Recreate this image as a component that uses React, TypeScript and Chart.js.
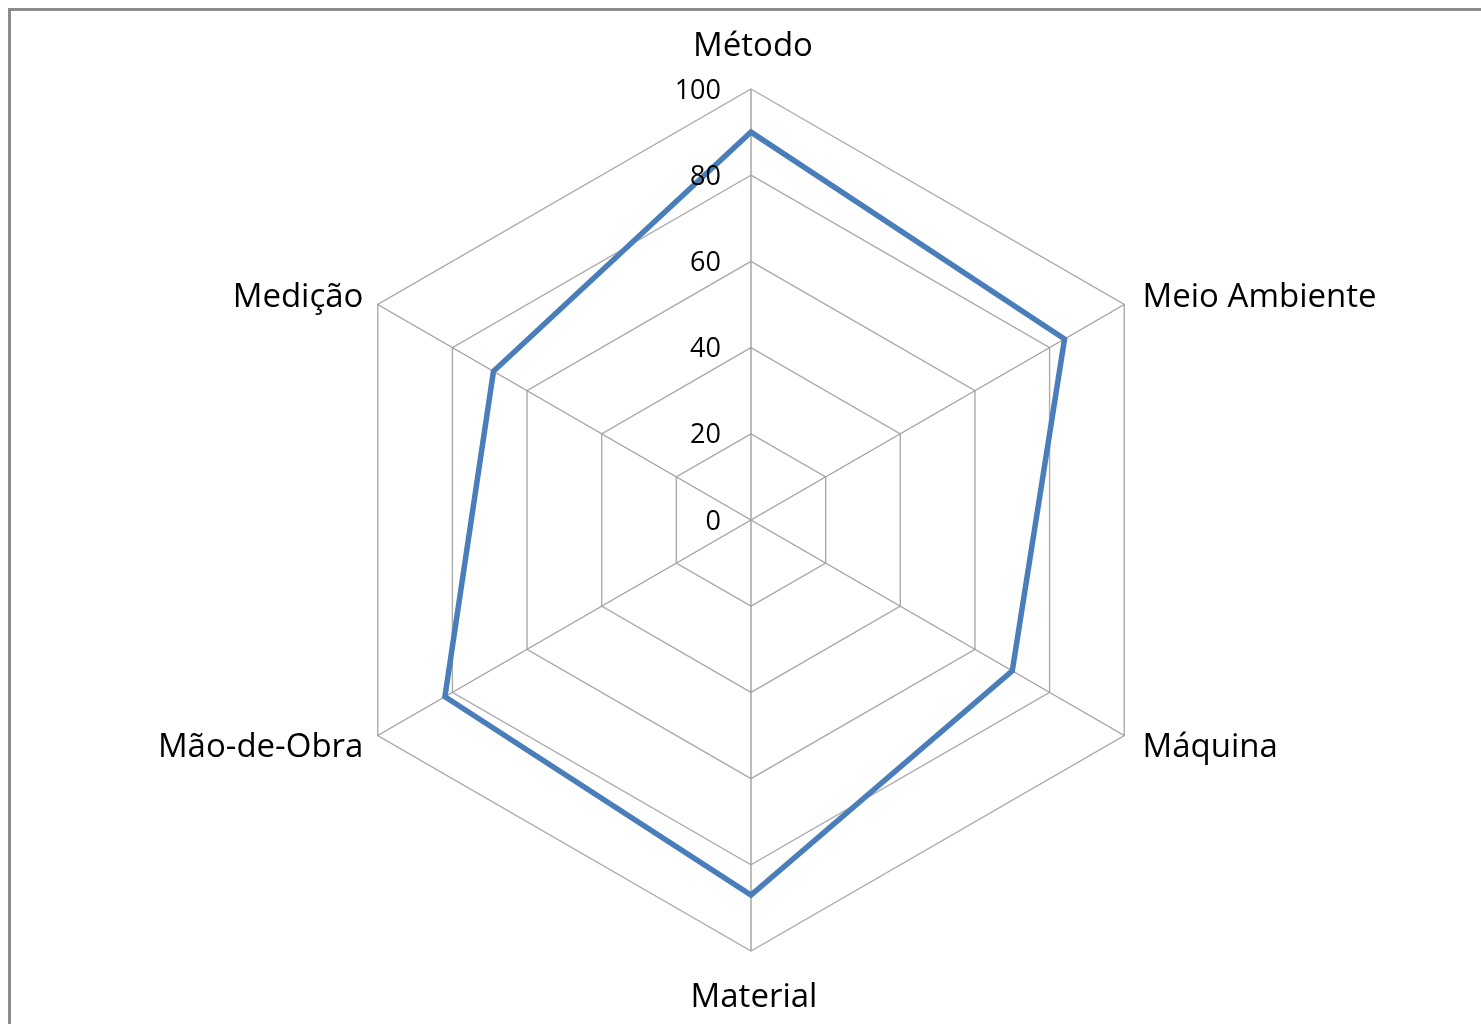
import React, { useEffect, useRef } from "react";
import { Chart, registerables } from "chart.js";

Chart.register(...registerables);

const categories = ["Método", "Meio Ambiente", "Máquina", "Material", "Mão-de-Obra", "Medição"];
const seriesValues = [90, 84, 70, 87, 82, 69];
const tickValues = [0, 20, 40, 60, 80, 100];

const labelFont = '33px "Open Sans", sans-serif';
const tickFont = '27px "Open Sans", sans-serif';

const labelPlugin = {
  id: "excelLabels",
  afterDraw(chart: any) {
    const scale = chart.scales.r;
    const ctx = chart.ctx;
    ctx.save();
    ctx.fillStyle = "#000";
    // tick labels
    ctx.font = tickFont;
    ctx.textAlign = "right";
    ctx.textBaseline = "middle";
    tickValues.forEach((v) => {
      const d = scale.getDistanceFromCenterForValue(v);
      ctx.fillText(String(v), scale.xCenter - 30, scale.yCenter - d + 2);
    });
    // point labels
    ctx.font = labelFont;
    categories.forEach((label, i) => {
      const p = scale.getPointPosition(i, scale.drawingArea + 20);
      const deg = (scale.getIndexAngle(i) * 180) / Math.PI;
      if (Math.abs(deg) < 1 || Math.abs(deg - 360) < 1) {
        ctx.textAlign = "center";
        ctx.textBaseline = "bottom";
        ctx.fillText(label, p.x + 2, p.y - 6);
      } else if (Math.abs(deg - 180) < 1) {
        ctx.textAlign = "center";
        ctx.textBaseline = "top";
        ctx.fillText(label, p.x + 3, p.y + 10);
      } else {
        ctx.textAlign = deg < 180 ? "left" : "right";
        ctx.textBaseline = "middle";
        ctx.fillText(label, p.x + (deg < 180 ? 1 : 3), p.y + (p.y < scale.yCenter ? 3 : 2));
      }
    });
    ctx.restore();
  },
};

export default function App() {
  const ref = useRef<HTMLCanvasElement | null>(null);
  useEffect(() => {
    if (!ref.current) return;
    const chart = new Chart(ref.current, {
      type: "radar",
      data: {
        labels: categories,
        datasets: [
          {
            data: seriesValues,
            borderColor: "#4A7EBB",
            borderWidth: 5.5,
            fill: false,
            pointRadius: 0,
            pointHoverRadius: 0,
            tension: 0,
          },
        ],
      },
      options: {
        animation: false,
        responsive: false,
        maintainAspectRatio: false,
        layout: { padding: { left: 320, top: 89, right: 299, bottom: 73 } },
        plugins: { legend: { display: false }, tooltip: { enabled: false } },
        scales: {
          r: {
            min: 0,
            max: 100,
            ticks: { display: false, stepSize: 20 },
            pointLabels: { display: false },
            grid: { color: "#ABABAB", lineWidth: 1.4, circular: false },
            angleLines: { color: "#A0A0A0", lineWidth: 1.4 },
          },
        },
      },
      plugins: [labelPlugin],
    });
    return () => chart.destroy();
  }, []);

  return (
    <div style={{ position: "fixed", left: 0, top: 0, width: 1481, height: 1024, overflow: "hidden", background: "#fff" }}>
      <div
        style={{
          position: "absolute",
          left: 8,
          top: 8,
          width: 2000,
          height: 2000,
          borderTop: "3px solid #8C8C8C",
          borderLeft: "3px solid #8C8C8C",
        }}
      />
      <canvas ref={ref} width={1481} height={1024} style={{ position: "absolute", left: 0, top: 0 }} />
    </div>
  );
}
